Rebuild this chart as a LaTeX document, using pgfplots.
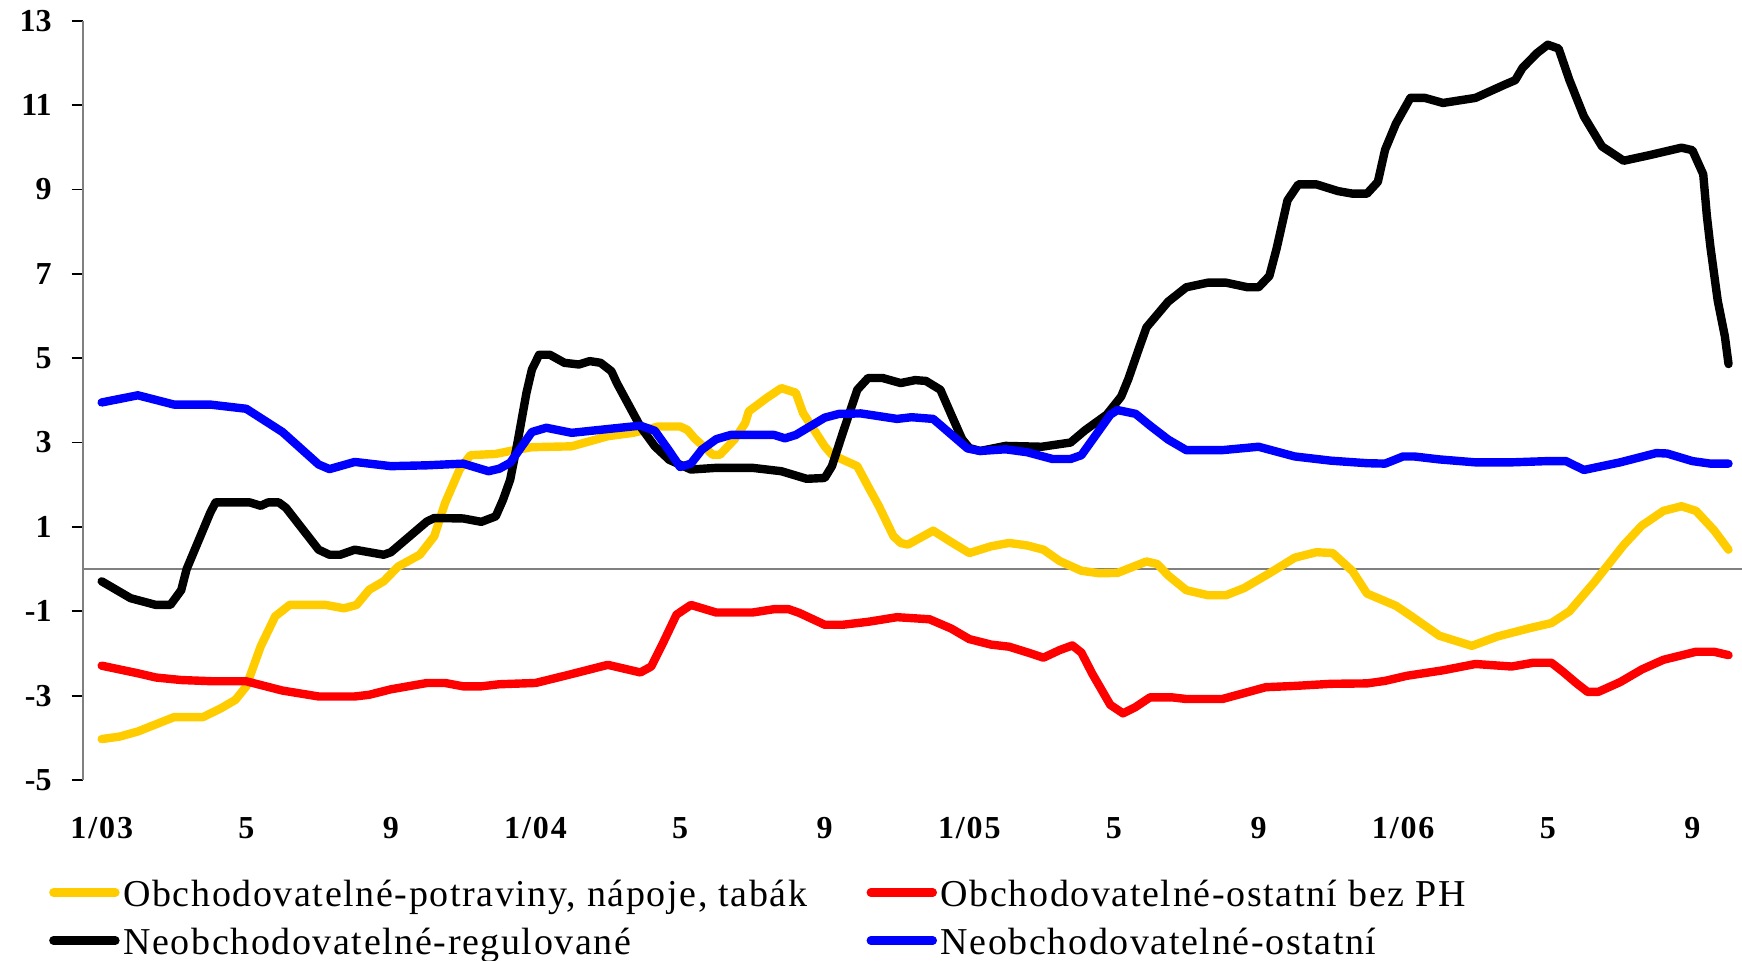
\documentclass[border=0pt]{standalone}
\usepackage{pgfplots}
\pgfplotsset{compat=1.18}
\usepackage{fontspec}
\setmainfont{Liberation Serif}
\definecolor{cyel}{RGB}{255,204,0}
\definecolor{cred}{RGB}{255,0,0}
\definecolor{cblue}{RGB}{0,0,255}
\definecolor{cgray}{RGB}{128,128,128}
\newcommand\lgs{\rule[-5pt]{0pt}{21pt}}
\begin{document}
\begin{tikzpicture}
\useasboundingbox (0,0) rectangle (871pt,480pt);
\begin{axis}[
 at={(41.35pt,90pt)}, anchor=south west,
 scale only axis, width=829.6pt, height=379.65pt,
 xmin=-0.525, xmax=45.37, ymin=-5, ymax=13,
 axis lines=left,
 x axis line style={draw=none},
 y axis line style={draw=cgray, line width=1pt, -},
 xtick={0,4,...,44},
 xticklabels={1/03,5,9,1/04,5,9,1/05,5,9,1/06,5,9},
 ytick={-5,-3,...,13},
 yticklabels={-5,-3,-1,1,3,5,7,9,11,13},
 tick align=outside,
 major tick length=5.5pt,
 xtick style={draw=none},
 ytick style={black, line width=0.9pt},
 ticklabel style={font=\fontsize{16}{19}\selectfont\bfseries},
 yticklabel style={anchor=east, inner sep=0pt, xshift=-9.85pt},
 xticklabel style={anchor=north, inner sep=0pt, yshift=-13pt, font=\fontsize{16}{19}\selectfont\bfseries\addfontfeatures{LetterSpace=6}},
 clip=false,
 legend columns=2,
 legend cell align=left,
 legend style={draw=none, fill=none, inner sep=0pt, outer sep=0pt,
   at={(axis description cs:-0.02019,-0.1251)}, anchor=north west,
   font=\fontsize{19}{23}\selectfont\addfontfeatures{LetterSpace=4.2},
   row sep=6.5pt, nodes={inner sep=0pt},
   /tikz/every odd column/.append style={column sep=1.9pt},
   /tikz/every even column/.append style={column sep=30.6pt}},
 legend image code/.code={\draw[#1, line width=4.2pt, line cap=round] (0pt,0pt) -- (31pt,0pt);},
 every axis plot/.append style={line width=4.2pt, line join=round, line cap=round},
]
\addplot[draw=cgray, line width=1pt, line cap=butt, forget plot] coordinates {(-0.525,0) (45.37,0)};

\addplot[cyel] coordinates {
(0,-4.03)(0.5,-3.97)(1,-3.85)(2,-3.51)(2.8,-3.51)(3.3,-3.3)(3.7,-3.1)(4,-2.78)(4.4,-1.83)(4.8,-1.12)(5.2,-0.85)(6.2,-0.85)(6.7,-0.93)(7.05,-0.85)(7.4,-0.49)(7.8,-0.29)(8.2,0.06)(8.8,0.34)(9.2,0.78)(9.5,1.57)(9.9,2.36)(10.2,2.7)(10.9,2.73)(11.3,2.8)(11.9,2.89)(13,2.91)(14,3.15)(14.7,3.23)(15.4,3.38)(16,3.38)(16.2,3.3)(16.4,3.1)(16.9,2.71)(17.1,2.71)(17.5,3.07)(17.8,3.46)(17.9,3.74)(18.4,4.06)(18.8,4.29)(19.2,4.18)(19.4,3.7)(20,2.91)(20.2,2.71)(20.9,2.44)(21.2,1.96)(21.5,1.49)(21.9,0.78)(22.1,0.62)(22.3,0.58)(23,0.91)(23.5,0.64)(24,0.38)(24.6,0.54)(25.1,0.62)(25.6,0.56)(26.05,0.46)(26.5,0.19)(27.1,-0.04)(27.6,-0.1)(28.1,-0.09)(28.9,0.18)(29.2,0.12)(29.5,-0.15)(30,-0.5)(30.6,-0.62)(31.1,-0.62)(31.6,-0.45)(32.3,-0.1)(33,0.27)(33.6,0.4)(34.05,0.38)(34.6,-0.05)(35,-0.58)(35.8,-0.87)(36.2,-1.1)(37,-1.58)(37.9,-1.82)(38.6,-1.6)(39.5,-1.4)(40.1,-1.28)(40.6,-1.0)(41.3,-0.3)(42.1,0.57)(42.6,1.03)(43.2,1.38)(43.7,1.49)(44.1,1.38)(44.6,0.92)(45,0.46)
};
\addlegendentry{\lgs\makebox[341pt][l]{Obchodovatelné-potraviny, nápoje, tabák}}

\addplot[cred] coordinates {
(0,-2.29)(1,-2.47)(1.5,-2.57)(2.2,-2.63)(3.1,-2.66)(4,-2.66)(5,-2.88)(6,-3.02)(7,-3.02)(7.4,-2.98)(8,-2.85)(9,-2.7)(9.5,-2.7)(10,-2.78)(10.5,-2.78)(11,-2.73)(12,-2.7)(12.9,-2.51)(14,-2.27)(14.9,-2.45)(15.2,-2.31)(15.5,-1.8)(15.9,-1.08)(16.3,-0.85)(17,-1.03)(18,-1.03)(18.6,-0.95)(19,-0.95)(19.3,-1.04)(20,-1.32)(20.5,-1.32)(21.2,-1.25)(22,-1.14)(22.9,-1.19)(23.5,-1.41)(24,-1.66)(24.6,-1.79)(25.1,-1.84)(25.7,-2.0)(26.05,-2.1)(26.5,-1.92)(26.85,-1.81)(27.1,-1.98)(27.4,-2.48)(27.9,-3.22)(28.25,-3.42)(28.6,-3.27)(29,-3.04)(29.6,-3.04)(30,-3.08)(31,-3.08)(32.2,-2.8)(33,-2.77)(34,-2.72)(35,-2.71)(35.5,-2.65)(36.1,-2.53)(37.1,-2.4)(38,-2.25)(39,-2.31)(39.6,-2.22)(40.1,-2.22)(40.4,-2.42)(40.8,-2.71)(41.1,-2.91)(41.4,-2.91)(42,-2.68)(42.6,-2.38)(43.2,-2.15)(44.1,-1.96)(44.6,-1.96)(45,-2.04)
};
\addlegendentry{\lgs Obchodovatelné-ostatní bez PH}

\addplot[black] coordinates {
(0,-0.29)(0.8,-0.69)(1.5,-0.85)(1.9,-0.85)(2.2,-0.5)(2.35,0.0)(3,1.33)(3.15,1.58)(4.1,1.58)(4.4,1.5)(4.6,1.58)(4.9,1.58)(5.1,1.45)(6,0.46)(6.3,0.34)(6.6,0.34)(7,0.46)(7.8,0.34)(8,0.4)(9,1.13)(9.2,1.21)(10,1.2)(10.5,1.12)(10.9,1.25)(11.1,1.64)(11.3,2.12)(11.5,2.99)(11.75,4.18)(11.9,4.73)(12.1,5.08)(12.4,5.08)(12.8,4.89)(13.2,4.85)(13.5,4.93)(13.8,4.89)(14.1,4.69)(14.25,4.41)(14.9,3.38)(15.3,2.91)(15.7,2.59)(16.3,2.36)(17,2.4)(18,2.4)(18.8,2.32)(19.5,2.14)(20,2.16)(20.2,2.44)(20.5,3.23)(20.9,4.25)(21.2,4.53)(21.6,4.53)(22.1,4.41)(22.5,4.48)(22.8,4.46)(23.2,4.25)(23.5,3.66)(23.8,3.08)(24,2.87)(24.3,2.8)(25,2.92)(26,2.9)(26.8,3.0)(27.2,3.29)(27.8,3.66)(28.2,4.09)(28.4,4.51)(28.7,5.25)(28.9,5.73)(29.5,6.34)(30,6.68)(30.6,6.79)(31.1,6.79)(31.7,6.68)(32,6.68)(32.3,6.95)(32.5,7.6)(32.8,8.74)(33.1,9.12)(33.6,9.12)(34.2,8.96)(34.6,8.9)(35,8.9)(35.3,9.18)(35.5,9.94)(35.8,10.56)(36.2,11.17)(36.6,11.17)(37.1,11.05)(38,11.17)(38.8,11.48)(39.1,11.59)(39.3,11.88)(39.7,12.23)(40,12.43)(40.3,12.34)(40.6,11.59)(41,10.73)(41.5,10.02)(42.1,9.68)(42.8,9.81)(43.7,9.99)(44,9.93)(44.3,9.36)(44.4,8.38)(44.5,7.63)(44.7,6.37)(44.9,5.51)(45,4.86)
};
\addlegendentry{\lgs\makebox[341pt][l]{Neobchodovatelné-regulované}}

\addplot[cblue] coordinates {
(0,3.95)(1,4.12)(2,3.9)(3,3.9)(4,3.8)(5,3.25)(6,2.48)(6.3,2.37)(7,2.54)(8,2.44)(9,2.46)(10,2.5)(10.7,2.32)(11,2.38)(11.3,2.52)(11.9,3.25)(12.3,3.35)(13,3.23)(14,3.32)(14.9,3.4)(15.3,3.28)(15.7,2.8)(16,2.42)(16.3,2.5)(16.6,2.83)(17,3.08)(17.4,3.18)(18.6,3.18)(18.9,3.1)(19.2,3.18)(20,3.59)(20.4,3.68)(21,3.69)(22,3.56)(22.4,3.6)(23,3.56)(23.95,2.86)(24.3,2.8)(25,2.84)(25.6,2.77)(26.3,2.61)(26.8,2.61)(27.1,2.7)(27.9,3.66)(28.1,3.77)(28.6,3.68)(29,3.4)(29.5,3.07)(30,2.82)(31,2.82)(32,2.9)(33,2.67)(34,2.57)(35,2.51)(35.5,2.5)(36,2.67)(36.3,2.67)(37,2.6)(38,2.53)(39,2.53)(40,2.56)(40.5,2.56)(41,2.35)(42,2.53)(43,2.75)(43.3,2.74)(44,2.56)(44.5,2.5)(45,2.5)
};
\addlegendentry{\lgs Neobchodovatelné-ostatní}
\end{axis}
\end{tikzpicture}
\end{document}
